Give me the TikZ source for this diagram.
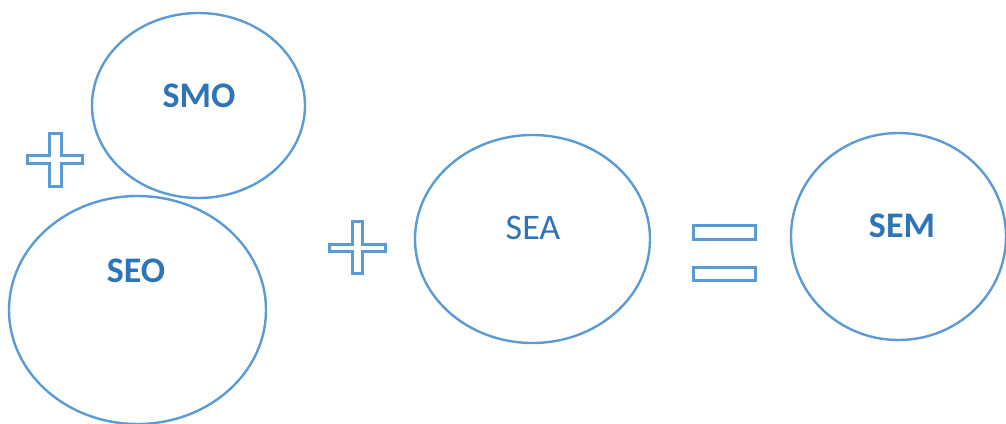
\documentclass[tikz,border=0pt]{standalone}
\usepackage{fontspec}
\setmainfont{Carlito}
\usetikzlibrary{shapes.geometric}
\definecolor{ringblue}{HTML}{5B9BD5}
\definecolor{textblue}{HTML}{2E75B6}
\tikzset{
  ring/.style={ellipse, draw=ringblue, line width=2.4pt, inner sep=0pt},
  lbl/.style={text=textblue, font=\fontsize{36}{40}\selectfont\bfseries, anchor=base, inner sep=0pt},
  lblreg/.style={lbl, font=\fontsize{36}{40}\selectfont},
  sym/.style={draw=ringblue, line width=3pt, line join=miter}
}
\begin{document}
\begin{tikzpicture}[x=1pt, y=-1pt]
\useasboundingbox (0,0) rectangle (1006,423);
% the four circles
\node[ring, minimum width=213pt, minimum height=185pt] (smo) at (198.5,105.5) {};
\node[ring, minimum width=257pt, minimum height=228pt] (seo) at (137.5,310) {};
\node[ring, minimum width=235pt, minimum height=208pt] (sea) at (532.5,239) {};
\node[ring, minimum width=215pt, minimum height=207pt] (sem) at (898.5,236.5) {};
% labels
\node[lbl] (tsmo) at (199,107) {SMO};
\node[lbl] (tseo) at (136,282) {SEO};
\node[lblreg] (tsea) at (533,239) {SEA};
\node[lbl] (tsem) at (902,237) {SEM};
% plus signs
\draw[sym] (27,155) -- (49,155) -- (49,133) -- (61,133) -- (61,155) -- (82,155)
  -- (82,163) -- (61,163) -- (61,186) -- (49,186) -- (49,163) -- (27,163) -- cycle;
\draw[sym] (329,244) -- (352,244) -- (352,221) -- (362,221) -- (362,244) -- (385,244)
  -- (385,251) -- (362,251) -- (362,273) -- (352,273) -- (352,251) -- (329,251) -- cycle;
% equals sign
\draw[sym] (693,225) rectangle (755,239);
\draw[sym] (693,267) rectangle (755,280);
\end{tikzpicture}
\end{document}
